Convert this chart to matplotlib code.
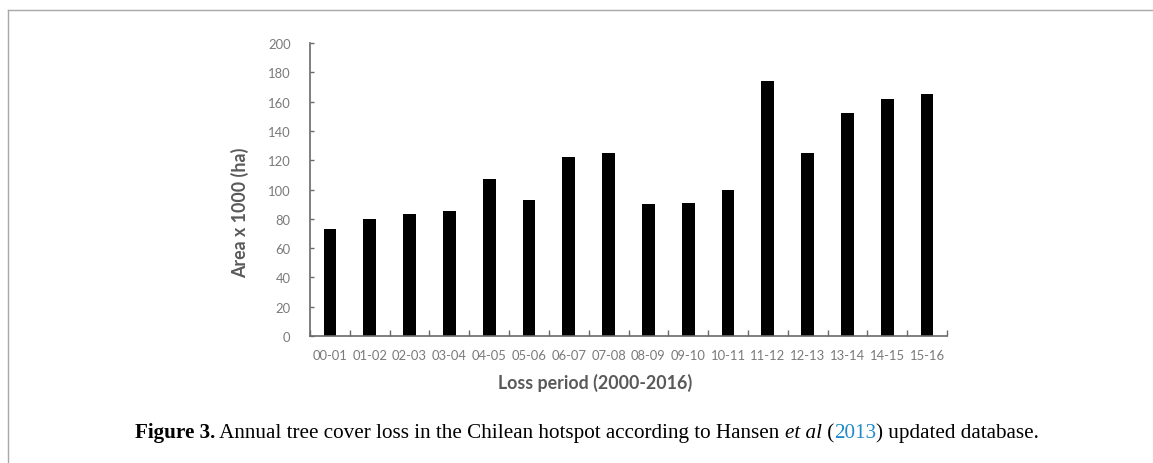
import numpy as np
import matplotlib.pyplot as plt
from matplotlib.lines import Line2D

# Loss periods and annual tree cover loss (Area x 1000 ha)
periods = ['00-01', '01-02', '02-03', '03-04', '04-05', '05-06', '06-07', '07-08',
           '08-09', '09-10', '10-11', '11-12', '12-13', '13-14', '14-15', '15-16']
area_loss = [73, 80, 83, 85, 107, 93, 122, 125, 90, 91, 100, 174, 125, 152, 162, 165]
y_ticks = [0, 20, 40, 60, 80, 100, 120, 140, 160, 180, 200]

W, H = 1153, 464
fig = plt.figure(figsize=(W / 100, H / 100), dpi=100)
fig.patch.set_facecolor('white')

# frame lines of the figure panel (top and left)
fig.add_artist(Line2D([8 / W, 1], [1 - 11 / H, 1 - 11 / H], color='#a8a8a8', lw=1.0))
fig.add_artist(Line2D([8 / W, 8 / W], [0, 1 - 11 / H], color='#a8a8a8', lw=1.0))

ax = fig.add_axes([310 / W, 1 - 337 / H, (947 - 310) / W, (337 - 44) / H])
x = np.arange(len(periods))
ax.bar(x, area_loss, width=0.32, color='black')

ax.set_xlim(-0.5, len(periods) - 0.5)
ax.set_ylim(0, 200)
for side in ['top', 'right']:
    ax.spines[side].set_visible(False)
for side in ['left', 'bottom']:
    ax.spines[side].set_color('#6a6a6a')
    ax.spines[side].set_linewidth(1.2)

tick_font = {'family': 'Lato', 'size': 9.4}
ax.set_yticks(y_ticks)
ax.set_yticklabels([str(v) for v in y_ticks], fontdict=tick_font, color='#7a7a7a')
ax.tick_params(axis='y', direction='in', length=3, width=1.0, color='#6a6a6a', pad=14)

# category labels centred, tick marks on category boundaries
ax.set_xticks(x)
ax.set_xticklabels(periods, fontdict=tick_font, color='#7a7a7a')
ax.tick_params(axis='x', which='major', length=0, pad=9)
ax.set_xticks(np.arange(len(periods) + 1) - 0.5, minor=True)
ax.tick_params(axis='x', which='minor', direction='in', length=4, width=1.0, color='#6a6a6a')

fig.text(240 / W, 1 - 213 / H, 'Area x 1000 (ha)', rotation=90, ha='center', va='center',
         family='Lato', fontweight='bold', fontsize=12.8, color='#595959')
fig.text(595 / W, 1 - 383 / H, 'Loss period (2000-2016)', ha='center', va='center',
         family='Lato', fontweight='bold', fontsize=12.8, color='#595959')

# caption, built piece by piece so styles can change mid-line
pieces = [
    ('Figure 3.', 'bold', 'normal', 'black'),
    (' Annual tree cover loss in the Chilean hotspot according to Hansen ', 'normal', 'normal', 'black'),
    ('et al', 'normal', 'italic', 'black'),
    (' (', 'normal', 'normal', 'black'),
    ('2013', 'normal', 'normal', '#1f8ac9'),
    (') updated database.', 'normal', 'normal', 'black'),
]
renderer = fig.canvas.get_renderer()
cap_y = 1 - 438 / H
texts = []
for s, wt, st, col in pieces:
    t = fig.text(0, cap_y, s, ha='left', va='baseline', family='Liberation Serif',
                 fontweight=wt, style=st, fontsize=15.2, color=col)
    texts.append(t)
widths = [t.get_window_extent(renderer).width for t in texts]
start = 587 - sum(widths) / 2
for t, w in zip(texts, widths):
    t.set_x(start / W)
    start += w

fig.savefig('out.png', dpi=100, facecolor='white')
